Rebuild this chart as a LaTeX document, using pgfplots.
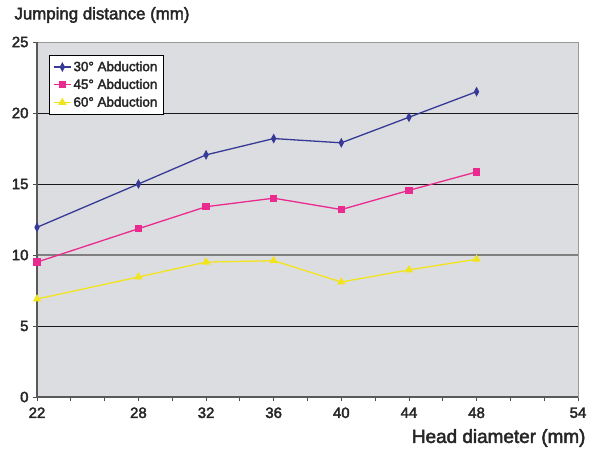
\documentclass[border=0pt]{standalone}
\usepackage{pgfplots}
\pgfplotsset{compat=1.18}
\usepackage{fontspec}
\setmainfont{Liberation Sans}[FakeBold=2.5]
\definecolor{bgc}{HTML}{DCDDE0}
\definecolor{c30}{HTML}{363A96}
\definecolor{c45}{HTML}{EA2A8E}
\definecolor{c60}{HTML}{F2E41C}
\begin{document}
\begin{tikzpicture}
\useasboundingbox (-37bp,-54bp) rectangle (553bp,397bp);
\begin{axis}[
  scale only axis, width=541bp, height=355bp,
  at={(0,0)}, anchor=south west,
  xmin=22, xmax=54, ymin=0, ymax=25,
  axis background/.style={fill=bgc},
  axis line style={draw=black!40, line width=0.9pt},
  xtick={22,24,...,54},
  xticklabels={22,,,28,,32,,36,,40,,44,,48,,,54},
  ytick={0,5,15,20,25},
  extra y ticks={10},
  extra y tick style={grid style={draw=black!50, line width=1.5pt}},
  ymajorgrids, grid style={draw=black!90, line width=0.7pt},
  tick align=outside, major tick length=4bp,
  tick style={draw=black!70, line width=0.8pt},
  xtick pos=bottom, ytick pos=left,
  /pgf/number format/assume math mode=true,
  ticklabel style={font=\fontsize{15}{16}\selectfont, text=black!85},
  xticklabel style={yshift=-3bp},
  yticklabel style={xshift=-1bp},
  legend style={at={(0.022,0.963)}, anchor=north west, draw=black, fill=white,
    font=\fontsize{13.5}{15}\selectfont, row sep=2.5bp, inner sep=4bp,
    line width=0.6pt, text=black!85},
  legend cell align=left,
  clip=false,
]
\addplot[c30, line width=1.3pt, mark=diamond*, mark size=2.6pt, mark options={yscale=1.4, fill=c30}]
  coordinates {(22,11.95) (28,15.0) (32,17.05) (36,18.2) (40,17.9) (44,19.7) (48,21.5)};
\addlegendentry{30° Abduction}
\addplot[c45, line width=1.3pt, mark=square*, mark size=3pt, mark options={fill=c45}]
  coordinates {(22,9.5) (28,11.85) (32,13.4) (36,14.0) (40,13.2) (44,14.55) (48,15.85)};
\addlegendentry{45° Abduction}
\addplot[c60, line width=1.3pt, mark=triangle*, mark size=3.6pt, mark options={fill=c60}]
  coordinates {(22,6.9) (28,8.45) (32,9.5) (36,9.6) (40,8.1) (44,8.95) (48,9.7)};
\addlegendentry{60° Abduction}
\draw[black!65, line width=1.3pt] (rel axis cs:0,1) -- (rel axis cs:0,0) -- (rel axis cs:1,0);
\end{axis}
\node[anchor=west, font=\fontsize{16.9}{18}\selectfont, text=black!85] at (-26bp,382bp) {Jumping distance (mm)};
\node[anchor=east, font=\fontsize{19}{20}\selectfont, text=black!85] at (552bp,-41bp) {Head diameter (mm)};
\end{tikzpicture}
\end{document}
